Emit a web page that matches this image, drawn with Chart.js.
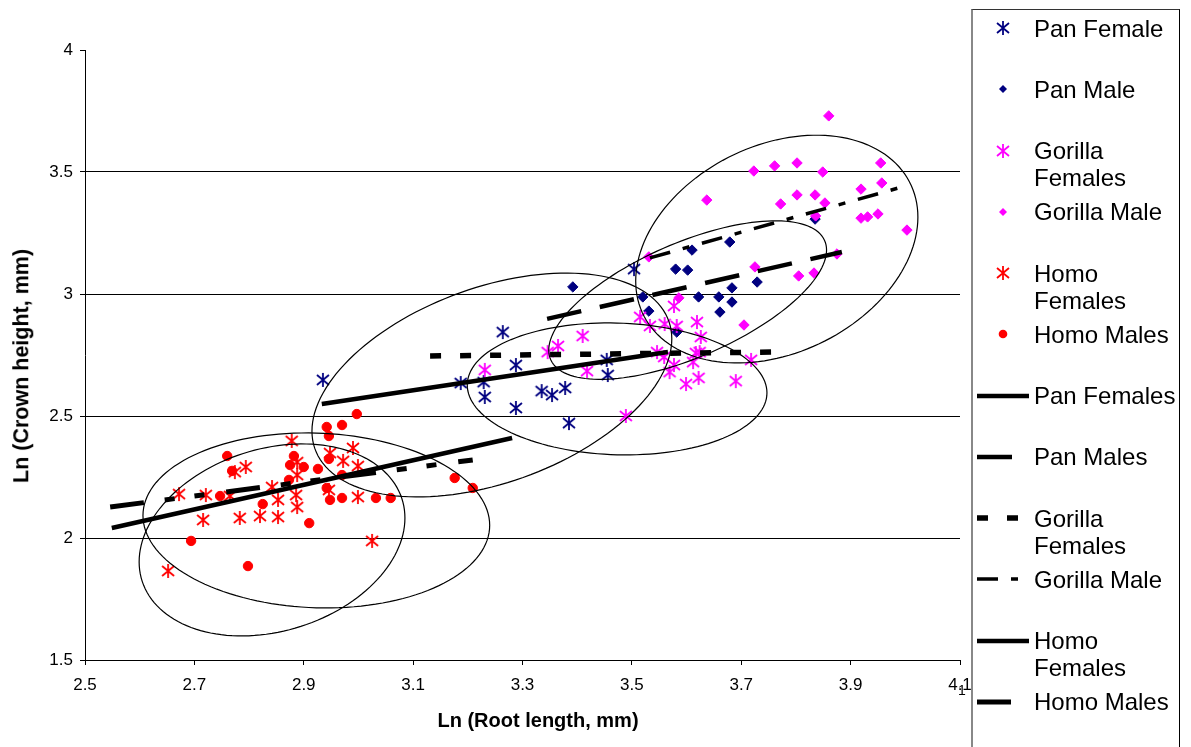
<!DOCTYPE html>
<html>
<head>
<meta charset="utf-8">
<script src="https://cdn.jsdelivr.net/npm/chart.js@4.4.1/dist/chart.umd.min.js"></script>
<style>
  body { margin: 0; background: #fff; font-family: "Liberation Sans", Arial, sans-serif; }
  #wrap { position: relative; width: 1191px; height: 747px; overflow: hidden; background: #fff; }
  #legend { position: absolute; left: 971px; top: 9px; width: 206px; height: 760px;
            border-left: 2px solid #888; border-top: 1px solid #333; border-right: 1px solid #000; }
  .item canvas { position: absolute; }
  .item span { position: absolute; left: 61px; width: 146px; font-size: 24px; line-height: 27px; color: #000; }
  .axis-title { position: absolute; font-weight: bold; color: #000; white-space: nowrap; line-height: 1; }
  #xTitle { left: 538px; top: 720px; font-size: 20px; transform: translate(-50%, -50%); }
  #yTitle { left: 22px; top: 366px; font-size: 21.5px; transform: translate(-50%, -50%) rotate(-90deg); }
  #stray { position: absolute; left: 958px; top: 682px; font-size: 14px; color: #000; }
</style>
</head>
<body>
<div id="wrap">
  <canvas id="myChart" width="1191" height="747"></canvas>
  <div id="xTitle" class="axis-title"></div>
  <div id="yTitle" class="axis-title"></div>
  <div id="legend"></div>
  <div id="stray">1</div>
</div>
<script>
// axis ticks and titles
const xTickLabels = ['2.5', '2.7', '2.9', '3.1', '3.3', '3.5', '3.7', '3.9', '4.1'];
const yTickLabels = ['1.5', '2', '2.5', '3', '3.5', '4'];
const xTitle = 'Ln (Root length, mm)';
const yTitle = 'Ln (Crown height, mm)';

// ln(root length), ln(crown height) per specimen
const panFemale = [[2.935,2.648],[3.187,2.635],[3.229,2.639],[3.231,2.578],[3.264,2.844],[3.288,2.709],
  [3.288,2.533],[3.335,2.602],[3.354,2.586],[3.378,2.615],[3.385,2.471],[3.454,2.730],[3.456,2.668],[3.504,3.102]];
const panMale = [[3.392,3.029],[3.520,2.988],[3.531,2.930],[3.582,2.844],[3.580,3.102],[3.602,3.098],
  [3.610,3.180],[3.622,2.988],[3.659,2.988],[3.661,2.926],[3.679,3.213],[3.683,3.025],[3.683,2.967],
  [3.729,3.049],[3.835,3.307]];
const gorillaFemales = [[3.231,2.689],[3.346,2.762],[3.365,2.787],[3.410,2.828],[3.418,2.684],[3.489,2.500],
  [3.515,2.906],[3.533,2.869],[3.577,2.951],[3.560,2.877],[3.582,2.869],[3.619,2.885],[3.626,2.824],
  [3.546,2.762],[3.559,2.742],[3.577,2.709],[3.569,2.680],[3.612,2.721],[3.617,2.758],[3.624,2.762],
  [3.599,2.631],[3.622,2.656],[3.690,2.643],[3.718,2.730]];
const gorillaMale = [[3.531,3.152],[3.586,2.984],[3.637,3.385],[3.705,2.873],[3.723,3.504],[3.725,3.111],
  [3.761,3.525],[3.772,3.369],[3.802,3.537],[3.802,3.406],[3.805,3.074],[3.833,3.086],[3.835,3.406],
  [3.836,3.320],[3.849,3.500],[3.853,3.373],[3.860,3.730],[3.875,3.164],[3.919,3.430],[3.919,3.311],
  [3.931,3.316],[3.950,3.328],[3.955,3.537],[3.957,3.455],[4.003,3.262]];
const homoFemales = [[2.652,1.865],[2.672,2.180],[2.716,2.074],[2.721,2.176],[2.765,2.172],[2.774,2.270],
  [2.794,2.291],[2.783,2.082],[2.820,2.090],[2.842,2.209],[2.853,2.156],[2.853,2.086],[2.878,2.398],
  [2.888,2.311],[2.888,2.258],[2.886,2.176],[2.888,2.127],[2.948,2.348],[2.946,2.197],[2.972,2.316],
  [2.990,2.369],[2.999,2.295],[2.999,2.168],[3.025,1.988]];
const homoMales = [[2.694,1.988],[2.747,2.172],[2.760,2.336],[2.769,2.275],[2.798,1.885],[2.825,2.139],
  [2.873,2.238],[2.875,2.299],[2.882,2.336],[2.900,2.291],[2.910,2.061],[2.926,2.283],[2.942,2.455],
  [2.946,2.418],[2.946,2.324],[2.942,2.205],[2.948,2.156],[2.970,2.463],[2.970,2.258],[2.970,2.164],
  [2.997,2.508],[3.032,2.164],[3.059,2.164],[3.176,2.246],[3.209,2.205]];

// fitted regression lines (end points)
const panFemalesFit = [[2.933,2.549],[3.566,2.762]];
const panMalesFit = [[3.345,2.898],[3.884,3.172]];
const gorillaFemalesFit = [[3.131,2.746],[3.758,2.762]];
const gorillaMaleFit = [[3.533,3.148],[4.001,3.443]];
const homoFemalesFit = [[2.549,2.041],[3.281,2.410]];
const homoMalesFit = [[2.546,2.127],[3.209,2.320]];

// group ellipses: centre x, centre y, half-width vector (dx, dy), vertical half-chord
const ellipseShapes = [
  [3.244, 2.627, 0.329, 0.189, 0.418],
  [3.602, 2.975, 0.254, 0.205, 0.252],
  [3.473, 2.611, 0.274, -0.016, 0.270],
  [3.765, 3.184, 0.258, 0.131, 0.448],
  [2.923, 2.072, 0.317, -0.020, 0.358],
  [2.842, 1.992, 0.243, 0.090, 0.383]
];

const NAVY = '#000080', MAGENTA = '#ff00ff', RED = '#ff0000';

function paintAsterisk(g, cx, cy, color) {
  g.strokeStyle = color;
  g.lineWidth = 1.8;
  g.beginPath();
  g.moveTo(cx, cy - 7); g.lineTo(cx, cy + 7);
  g.moveTo(cx - 6, cy - 5); g.lineTo(cx + 6, cy + 5);
  g.moveTo(cx - 6, cy + 5); g.lineTo(cx + 6, cy - 5);
  g.stroke();
}

function asteriskMarker(color) {
  const c = document.createElement('canvas');
  c.width = 16; c.height = 16;
  paintAsterisk(c.getContext('2d'), 8, 8, color);
  return c;
}

const toXY = (pairs) => pairs.map(([x, y]) => ({ x, y }));

function pointSet(label, pairs, color, style, order) {
  return {
    label: label,
    data: toXY(pairs),
    pointStyle: style === 'asterisk' ? asteriskMarker(color) : style,
    marker: style,
    markerColor: color,
    pointRadius: style === 'asterisk' ? 8 : (style === 'rectRot' ? 5.2 : 4.7),
    backgroundColor: color,
    borderColor: color,
    borderWidth: 1,
    order: order
  };
}

function fitSet(label, pairs, dash, width, order) {
  return {
    label: label,
    data: toXY(pairs),
    showLine: true,
    pointRadius: 0,
    borderColor: '#000',
    borderWidth: width,
    borderDash: dash,
    borderCapStyle: 'butt',
    order: order
  };
}

const datasets = [
  pointSet('Pan Female', panFemale, NAVY, 'asterisk', 12),
  pointSet('Pan Male', panMale, NAVY, 'rectRot', 11),
  pointSet('Gorilla Females', gorillaFemales, MAGENTA, 'asterisk', 10),
  pointSet('Gorilla Male', gorillaMale, MAGENTA, 'rectRot', 9),
  pointSet('Homo Females', homoFemales, RED, 'asterisk', 8),
  pointSet('Homo Males', homoMales, RED, 'circle', 7),
  fitSet('Pan Females', panFemalesFit, [], 4.5, 6),
  fitSet('Pan Males', panMalesFit, [35, 19], 4.5, 5),
  fitSet('Gorilla Females', gorillaFemalesFit, [11, 19], 5.5, 4),
  fitSet('Gorilla Male', gorillaMaleFit, [21, 13, 7, 13], 3.5, 3),
  fitSet('Homo Females', homoFemalesFit, [], 4.5, 2),
  fitSet('Homo Males', homoMalesFit, [34, 21, 10, 20, 10, 22], 5, 1)
];

const ellipsePlugin = {
  id: 'ellipses',
  afterDatasetsDraw(chart) {
    const { ctx, scales: { x, y } } = chart;
    ctx.save();
    ctx.strokeStyle = '#000';
    ctx.lineWidth = 1.2;
    ellipseShapes.forEach(([cx, cy, ux, uy, vy]) => {
      ctx.beginPath();
      for (let k = 0; k <= 144; k++) {
        const t = (k / 144) * Math.PI * 2;
        const px = x.getPixelForValue(cx + ux * Math.cos(t));
        const py = y.getPixelForValue(cy + uy * Math.cos(t) + vy * Math.sin(t));
        if (k === 0) ctx.moveTo(px, py); else ctx.lineTo(px, py);
      }
      ctx.closePath();
      ctx.stroke();
    });
    ctx.restore();
  }
};

Chart.defaults.font.family = '"Liberation Sans", Arial, sans-serif';
Chart.defaults.color = '#000';

const ctx = document.getElementById('myChart');
const chart = new Chart(ctx, {
  type: 'scatter',
  data: { datasets: datasets },
  plugins: [ellipsePlugin],
  options: {
    responsive: false,
    animation: false,
    events: [],
    layout: { padding: { left: 0, right: 231, top: 50, bottom: 0 } },
    plugins: { legend: { display: false }, tooltip: { enabled: false } },
    scales: {
      x: {
        type: 'linear',
        min: 2.5,
        max: 4.1,
        afterBuildTicks: (scale) => { scale.ticks = xTickLabels.map(v => ({ value: Number(v) })); },
        afterFit: (scale) => { scale.height = 87; },
        ticks: {
          callback: (v, i) => xTickLabels[i],
          font: { size: 17 },
          padding: 10,
          maxRotation: 0,
          autoSkip: false
        },
        grid: { drawOnChartArea: false, tickLength: 5, color: '#000', tickColor: '#000' },
        border: { color: '#000', width: 1 }
      },
      y: {
        type: 'linear',
        min: 1.5,
        max: 4,
        afterBuildTicks: (scale) => { scale.ticks = yTickLabels.map(v => ({ value: Number(v) })); },
        afterFit: (scale) => { scale.width = 85; },
        ticks: {
          callback: (v, i) => yTickLabels[i],
          font: { size: 17 },
          padding: 7
        },
        grid: {
          tickLength: 5,
          tickColor: '#000',
          color: (c) => (c.tick && c.tick.value === 4 ? 'rgba(0,0,0,0)' : '#000')
        },
        border: { color: '#000', width: 1 }
      }
    }
  }
});

document.getElementById('xTitle').textContent = xTitle;
document.getElementById('yTitle').textContent = yTitle;

// legend box on the right, one slot per series
const legend = document.getElementById('legend');
chart.data.datasets.forEach((ds, i) => {
  const mid = 18 + 61.25 * i;
  const item = document.createElement('div');
  item.className = 'item';
  legend.append(item);

  const key = document.createElement('canvas');
  const g = key.getContext('2d');
  if (ds.showLine) {
    key.width = 54; key.height = 10;
    key.style.left = '4px';
    key.style.top = (mid - 5) + 'px';
    g.strokeStyle = '#000';
    g.lineWidth = ds.borderWidth;
    g.setLineDash(ds.borderDash);
    g.beginPath();
    g.moveTo(0, 5); g.lineTo(52, 5);
    g.stroke();
  } else {
    key.width = 16; key.height = 16;
    key.style.left = '22px';
    key.style.top = (mid - 8) + 'px';
    g.fillStyle = ds.markerColor;
    if (ds.marker === 'asterisk') {
      paintAsterisk(g, 8, 8, ds.markerColor);
    } else if (ds.marker === 'rectRot') {
      g.beginPath();
      g.moveTo(8, 4); g.lineTo(12, 8); g.lineTo(8, 12); g.lineTo(4, 8);
      g.closePath(); g.fill();
    } else {
      g.beginPath();
      g.arc(8, 8, 4.3, 0, Math.PI * 2);
      g.fill();
    }
  }
  item.append(key);

  const text = document.createElement('span');
  text.textContent = ds.label;
  text.style.top = (mid - 13.5) + 'px';
  item.append(text);
});
</script>
</body>
</html>
